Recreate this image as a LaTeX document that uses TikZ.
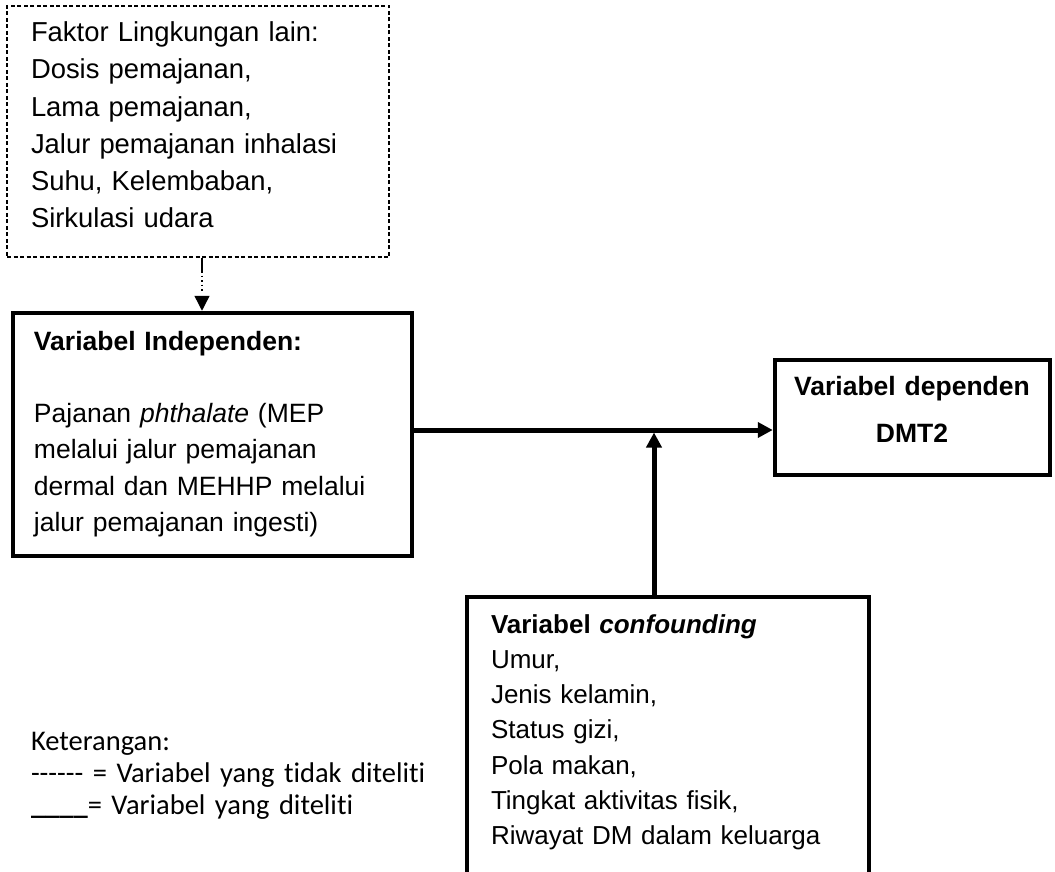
\documentclass[tikz,border=0pt]{standalone}
\usepackage{fontspec}
\setmainfont{Liberation Sans}
\newfontfamily\legendfont[Ligatures=CommonOff]{Carlito}
\usetikzlibrary{arrows.meta}

\newcommand\hy{\mbox{-}}

\tikzset{
  solidbox/.style={draw, line width=4.5pt, inner sep=0pt, outer sep=auto},
  dashbox/.style={draw, line width=1.4pt, dash pattern=on 4pt off 2.5pt, inner sep=0pt, outer sep=auto},
  txt/.style={anchor=north west, inner sep=0pt, outer sep=0pt, align=left},
  link/.style={line width=5pt, -{Triangle[width=15pt,length=15pt]}},
  weaklink/.style={line width=1.4pt,
    dash pattern=on 15pt off 3pt on 1.5pt off 3pt on 1.5pt off 3pt on 1.5pt off 3pt on 1.5pt off 40pt,
    -{Triangle[width=15pt,length=15pt]}},
}

\begin{document}
\begin{tikzpicture}[x=1pt, y=-1pt]
  \clip (0,0) rectangle (1055,872);
  \fill[white] (0,0) rectangle (1055,872);

  % boxes
  \node[dashbox, minimum width=382pt, minimum height=251pt] (fk) at (198,131.5) {};
  \node[solidbox, minimum width=399pt, minimum height=243pt] (ind) at (212.5,434.5) {};
  \node[solidbox, minimum width=275pt, minimum height=115pt] (dep) at (912.5,417.5) {};
  \node[solidbox, minimum width=402pt, minimum height=303pt] (conf) at (668,748.5) {};

  % box texts
  \node[txt, text width=355pt, font=\fontsize{27.4}{37.2}\selectfont] (fkt) at (31,15.66)
    {\strut Faktor Lingkungan lain:\\
     Dosis pemajanan,\\
     Lama pemajanan,\\
     Jalur pemajanan inhalasi\\
     Suhu, Kelembaban,\\
     Sirkulasi udara};

  \node[txt, text width=370pt, font=\fontsize{26.5}{36.3}\selectfont] (indt) at (34,324.6)
    {\strut\textbf{Variabel Independen:}\\[36.3pt]
     Pajanan \textit{phthalate} (MEP\\
     melalui jalur pemajanan\\
     dermal dan MEHHP melalui\\
     jalur pemajanan ingesti)};

  \node[anchor=north, inner sep=0pt, align=center, text width=270pt,
        font=\fontsize{26.5}{47}\selectfont\bfseries] (dept) at (912,362.1)
    {\strut Variabel dependen\\ DMT2};

  \node[txt, text width=370pt, font=\fontsize{26}{35.3}\selectfont] (conft) at (491,608.3)
    {\strut\textbf{Variabel \textit{confounding}}\\
     Umur,\\
     Jenis kelamin,\\
     Status gizi,\\
     Pola makan,\\
     Tingkat aktivitas fisik,\\
     Riwayat DM dalam keluarga};

  % legend
  \node[txt, text width=440pt, font=\legendfont\fontsize{28.5}{31.7}\selectfont] (leg) at (31,728.5)
    {\strut Keterangan:\\
     \hy\hy\hy\hy\hy\hy{} = Variabel yang tidak diteliti\\
     \textbf{\_\_\_\_}= Variabel yang diteliti};

  % connectors
  \coordinate (jn) at (654,430);
  \coordinate (fx) at (202,0);
  \draw[weaklink] (fk.south -| fx) -- (ind.north -| fx);
  \draw[link] (ind.east |- jn) -- (dep.west |- jn);
  \draw[link] (conf.north -| jn) -- ([yshift=-2.5pt]jn);
\end{tikzpicture}
\end{document}
